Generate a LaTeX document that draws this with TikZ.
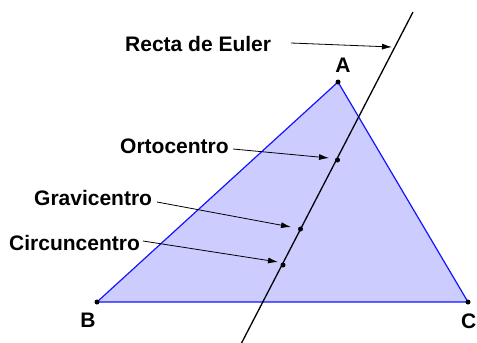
\documentclass[tikz,border=0pt]{standalone}
\usepackage{fontspec}
\setmainfont{Liberation Sans}
\usetikzlibrary{arrows.meta}
\definecolor{trifill}{RGB}{204,204,255}
\definecolor{triedge}{RGB}{20,20,255}
\tikzset{
  lbl/.style={font=\fontsize{21}{23}\selectfont\bfseries, inner sep=0pt},
  dot/.style={circle, fill=black, inner sep=0pt, minimum size=5pt},
  pointer/.style={-{Latex[length=10pt,width=6pt]}, line width=0.8pt},
  euler/.style={line width=1.3pt}
}
\begin{document}
\begin{tikzpicture}[x=1pt,y=-1pt]
\useasboundingbox (0,0) rectangle (477,343);
\coordinate (A) at (338,82);
\coordinate (B) at (97,302);
\coordinate (C) at (468,302);
\fill[trifill] (A) -- (B) -- (C) -- cycle;
\draw[triedge, line width=1.2pt, line join=round] (A) -- (B) -- (C) -- cycle;
\coordinate (Etop) at (413,12);
\coordinate (Ebot) at (240,346);
\draw[euler] (Ebot) -- (Etop);
\node[dot] (O) at (337.5,160) {};
\node[dot] (G) at (300.5,229) {};
\node[dot] (Cc) at (283,265) {};
\node[dot] at (A) {};
\node[dot] at (B) {};
\node[dot] at (C) {};
\node[lbl] (lA) at (343,65) {A};
\node[lbl] (lB) at (88,320) {B};
\node[lbl, anchor=east] (lC) at (476.5,321) {C};
\node[lbl, anchor=west] (lR) at (125,44) {Recta de Euler};
\node[lbl, anchor=west] (lO) at (120,146) {Ortocentro};
\node[lbl, anchor=west] (lG) at (34,198) {Gravicentro};
\node[lbl, anchor=west] (lCc) at (9,243) {Circuncentro};
\coordinate (tR) at (392,47);
\coordinate (tO) at (329,158);
\coordinate (tG) at (291,227);
\coordinate (tCc) at (278,262);
\draw[pointer] (291,43) -- (tR);
\draw[pointer] (233,149) -- (tO);
\draw[pointer] (157,202) -- (tG);
\draw[pointer] (143,241) -- (tCc);
\end{tikzpicture}
\end{document}
